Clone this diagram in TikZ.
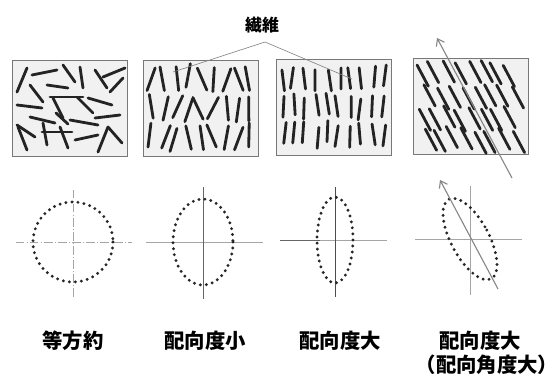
\documentclass[tikz,border=0pt]{standalone}
\usepackage{fontspec}
\usepackage{tikz}
\usetikzlibrary{arrows.meta,positioning}
\newfontfamily\jpfont{Noto Sans CJK JP}
\definecolor{fiberink}{RGB}{35,35,35}
\definecolor{boxfill}{RGB}{241,241,241}
\definecolor{boxline}{RGB}{120,120,120}
\definecolor{axisgray}{RGB}{165,165,165}
\definecolor{arrowgray}{RGB}{135,135,135}
\tikzstyle{sample} = [rectangle, minimum width=5.75cm, minimum height=4.8cm, inner sep=0pt, draw=boxline, fill=boxfill, line width=1.2pt]
\tikzstyle{fiber} = [fiberink, line width=4pt, line cap=round]
\tikzstyle{orient} = [black!85, line width=4.6pt, line cap=round, dash pattern=on 0pt off 8.6pt]
\tikzstyle{axis} = [axisgray, line width=0.8pt]
\tikzstyle{arrow} = [arrowgray, line width=1.6pt, -{Straight Barb[length=9pt,width=13pt,line width=1.6pt]}]
\tikzstyle{caption} = [font=\jpfont\bfseries\fontsize{29}{34}\selectfont, inner sep=0pt]

\begin{document}
\begin{tikzpicture}[x=0.05cm, y=-0.05cm]
\useasboundingbox (0,0) rectangle (560,374);

% sample boxes
\node (box1) [sample] at (69.5,108) {};
\node (box2) [sample] at (200.5,108) {};
\node (box3) [sample] at (333.5,107.5) {};
\node (box4) [sample] at (471,106.5) {};

% isotropic: fibres in every direction
\foreach \xa/\ya/\xb/\yb in {17/92/27/68, 32/75/57/70, 63/65/75/82, 80/67/83/88, 95/70/107/88,
  103/77/125/68, 30/85/43/102, 47/85/68/88, 110/92/123/78, 17/105/42/108, 50/97/83/97,
  77/97/93/113, 53/98/63/118, 88/98/112/105, 30/117/55/123, 70/120/98/125, 95/118/120/115,
  17/125/35/137, 18/127/27/150, 43/123/47/145, 42/132/72/132, 60/127/68/148, 75/140/98/135,
  98/152/108/127, 108/127/122/143, 56/113/68/124}
  \draw[fiber] (\xa,\ya) -- (\xb,\yb);

% low orientation
\pgfmathsetseed{11}
\foreach \i in {0,...,8}
  \foreach \j in {0,...,2} {
    \pgfmathsetmacro\ang{90+30*rand}
    \pgfmathsetmacro\cx{151+12.3*\i+3*rand}
    \pgfmathsetmacro\cy{78+29.5*\j+3*rand}
    \draw[fiber] (\cx,\cy) ++(\ang+180:12) -- ++(\ang:24);
  }

% high orientation
\foreach \i in {0,...,9}
  \foreach \j in {0,...,2} {
    \pgfmathsetmacro\ang{90+9*rand}
    \pgfmathsetmacro\cx{283+11.2*\i+2.5*rand}
    \pgfmathsetmacro\cy{77+29*\j+4*rand}
    \draw[fiber] (\cx,\cy) ++(\ang+180:10.5) -- ++(\ang:21);
  }

% high orientation, tilted
\foreach \i in {0,...,7}
  \foreach \j in {0,...,3} {
    \pgfmathsetmacro\cx{423+12.5*\i+6*mod(\j,2)+2.5*rand}
    \pgfmathsetmacro\cy{74+22*\j+3*rand}
    \draw[fiber] (\cx,\cy) ++(242:12) -- ++(62:24);
  }

% label for the fibres
\node (fib) [caption, font=\jpfont\bfseries\fontsize{24}{28}\selectfont] at (262,25) {繊維};
\coordinate (apex) at (265,42);
\coordinate (tip2) at (173,72);
\coordinate (tip3) at (352,79);
\draw[axisgray!80!black, line width=0.9pt] (tip2) -- (apex) -- (tip3);

\coordinate (tail4) at (512,178);
\coordinate (head4) at (437,38);
\draw[arrow] (tail4) -- (head4);

% orientation ellipses
\coordinate (c1) at (73,242);
\coordinate (c2) at (203,242);
\coordinate (c3) at (335,240);
\coordinate (c4) at (470,239);

\draw[axis, dash pattern=on 12pt off 3pt on 2pt off 3pt] (c1) ++(-57,0) -- ++(116,0);
\draw[axis, dash pattern=on 12pt off 3pt on 2pt off 3pt] (c1) ++(0,-52) -- ++(0,107);
\draw[orient] (c1) circle [radius=40];

\draw[axis] (c2) ++(-57,0) -- ++(117,0);
\draw[axis, black!60] (c2) ++(0,-55) -- ++(0,112);
\draw[orient] (c2) ellipse [x radius=30, y radius=43];

\draw[axis, black!60] (c3) ++(-55,0) -- ++(40,0);
\draw[axis] (c3) ++(-15,0) -- ++(67,0);
\draw[axis, black!70] (c3) ++(0,-53) -- ++(0,110);
\draw[orient] (c3) ellipse [x radius=18, y radius=43];

\draw[axis] (c4) ++(-55,0) -- ++(107,0);
\draw[axis] (c4) ++(0,-53) -- ++(0,109);
\draw[orient, rotate around={28:(c4)}] (c4) ellipse [x radius=19, y radius=45];
\coordinate (tail5) at (498,289);
\coordinate (head5) at (440,180);
\draw[arrow] (tail5) -- (head5);

% captions
\node (iso) [caption] at (73,341) {等方約};
\node (low) [caption] at (205,341) {配向度小};
\node (high) [caption] at (340,341) {配向度大};
\node (tilt) [caption] at (480,341) {配向度大};
\node (tiltangle) [caption, below=5pt of tilt, xshift=10pt] {（配向角度大）};
\end{tikzpicture}
\end{document}
